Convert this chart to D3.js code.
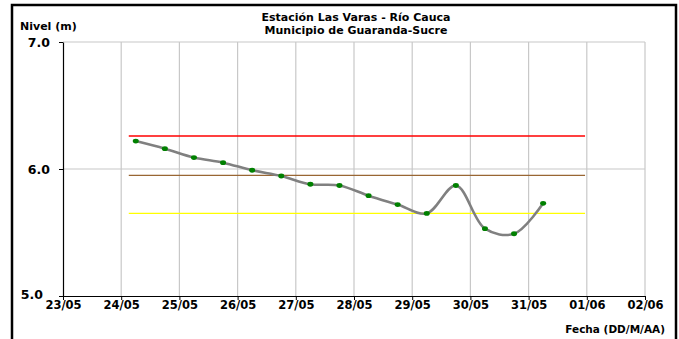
<!DOCTYPE html>
<html><head><meta charset="utf-8">
<script src="https://cdn.jsdelivr.net/npm/d3@7"></script>
<style>body{margin:0;background:#fff}svg{display:block}text{font-family:"DejaVu Sans",Arial,sans-serif;font-weight:bold}</style>
</head><body><svg id="c" width="679" height="339"></svg>
<script>
const title1 = "Estación Las Varas - Río Cauca";
const title2 = "Municipio de Guaranda-Sucre";
const yLabel = "Nivel (m)";
const xLabel = "Fecha (DD/M/AA)";
const xTickLabels = ["23/05","24/05","25/05","26/05","27/05","28/05","29/05","30/05","31/05","01/06","02/06"];
const yTicks = [5.0, 6.0, 7.0];
// observation times in days since 23/05 00:00 (readings at 06:00 and 18:00)
const obsTimes = [1.25,1.75,2.25,2.75,3.25,3.75,4.25,4.75,5.25,5.75,6.25,6.75,7.25,7.75,8.25];
const levels   = [6.22,6.16,6.09,6.05,5.99,5.945,5.88,5.87,5.79,5.72,5.65,5.87,5.53,5.49,5.73];
const thresholdValues = [6.26, 5.95, 5.65];
const thresholdColors = ["#ff0000", "#996633", "#ffff00"];
const thresholdSpan = [1.13, 8.97];

const svg = d3.select("#c");
const m = {l:63, r:645, t:42, b:296};
const x = d3.scaleLinear().domain([0,10]).range([m.l, m.r]);
const y = d3.scaleLinear().domain([5,7]).range([m.b, m.t]);
const FONT = "DejaVu Sans, Arial, sans-serif";

// frame
svg.append("rect").attr("x",12).attr("y",5).attr("width",664).attr("height",345)
  .attr("fill","none").attr("stroke","#000").attr("stroke-width",2.5);

// grid
const ticksX = d3.range(0, 11);
svg.append("g").selectAll("line").data(ticksX.slice(1)).join("line")
  .attr("x1",d=>x(d)).attr("x2",d=>x(d)).attr("y1",m.t).attr("y2",m.b)
  .attr("stroke","#c8c8c8").attr("stroke-width",1.2);
svg.append("g").selectAll("line").data(yTicks.slice(1)).join("line")
  .attr("x1",m.l).attr("x2",m.r).attr("y1",d=>y(d)).attr("y2",d=>y(d))
  .attr("stroke","#c8c8c8").attr("stroke-width",1.2);

// axes
const xAxis = d3.axisBottom(x).tickValues(ticksX).tickFormat((d,i)=>xTickLabels[i]).tickSize(4).tickSizeOuter(0);
const gx = svg.append("g").attr("transform",`translate(0,${m.b})`).call(xAxis);
gx.select(".domain").attr("stroke","#000").attr("stroke-width",1.2);
gx.selectAll(".tick line").attr("stroke","#000");
gx.selectAll("text").attr("font-size",11.5).attr("font-family",FONT).attr("font-weight","bold").attr("fill","#000").attr("y",5).attr("dy","0.71em");

const yAxis = d3.axisLeft(y).tickValues(yTicks).tickFormat(d3.format(".1f")).tickSize(4).tickSizeOuter(0);
const gy = svg.append("g").attr("transform",`translate(${m.l},0)`).call(yAxis);
gy.select(".domain").attr("stroke","#000").attr("stroke-width",1.2);
gy.selectAll(".tick line").attr("stroke","#000");
gy.selectAll("text").attr("font-size",12.5).attr("font-family",FONT).attr("font-weight","bold").attr("fill","#000")
  .attr("x",(d,i)=> i===0 ? -20 : -13).attr("dy",(d,i)=> i===0 ? "0.2em" : "0.32em");

// thresholds
svg.append("g").selectAll("line").data(thresholdValues).join("line")
  .attr("x1",x(thresholdSpan[0])).attr("x2",x(thresholdSpan[1]))
  .attr("y1",d=>y(d)).attr("y2",d=>y(d))
  .attr("stroke",(d,i)=>thresholdColors[i]).attr("stroke-width",1.3);

// series
const pts = obsTimes.map((t,i)=>[t, levels[i]]);
const line = d3.line().x(d=>x(d[0])).y(d=>y(d[1])).curve(d3.curveCatmullRom.alpha(0.5));
svg.append("path").attr("d",line(pts)).attr("fill","none").attr("stroke","#808080").attr("stroke-width",2.6);
svg.append("g").selectAll("ellipse").data(pts).join("ellipse")
  .attr("cx",d=>x(d[0])).attr("cy",d=>y(d[1])).attr("rx",3).attr("ry",2.4).attr("fill","#008000");

// titles
svg.append("text").attr("x",356).attr("y",21).attr("text-anchor","middle").attr("font-size",11).text(title1);
svg.append("text").attr("x",356).attr("y",34).attr("text-anchor","middle").attr("font-size",11).text(title2);
svg.append("text").attr("x",20).attr("y",30).attr("font-size",11).text(yLabel);
svg.append("text").attr("x",665).attr("y",333).attr("text-anchor","end").attr("font-size",10.5).text(xLabel);
</script></body></html>
